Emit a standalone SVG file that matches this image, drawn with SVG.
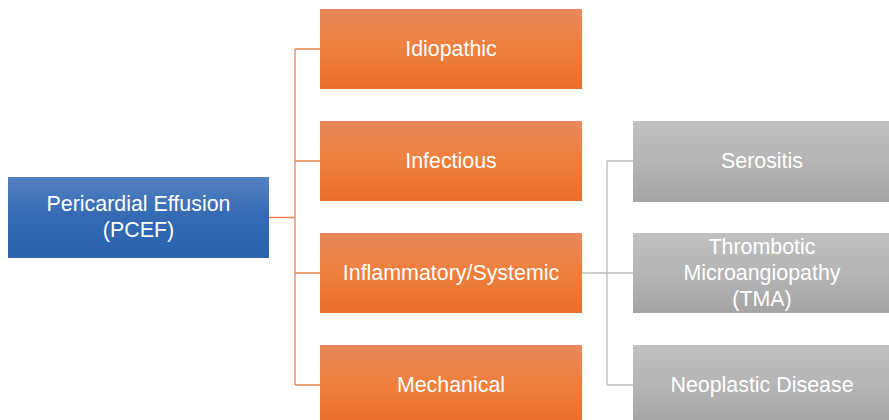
<svg xmlns="http://www.w3.org/2000/svg" width="889" height="420" viewBox="0 0 889 420">
<style>
.t{font-family:"Liberation Sans",Arial,sans-serif;font-size:21.4px;fill:#ffffff;text-anchor:middle}
.oc{fill:none;stroke:#EC8550;stroke-width:1.3}
.gc{fill:none;stroke:#BDBDBD;stroke-width:1.3}
</style>
<defs>
<linearGradient id="gb" x1="0" y1="0" x2="0" y2="1">
<stop offset="0" stop-color="#5581C2"/><stop offset="0.5" stop-color="#336AB3"/><stop offset="1" stop-color="#2A62AD"/>
</linearGradient>
<linearGradient id="go" x1="0" y1="0" x2="0" y2="1">
<stop offset="0" stop-color="#EA895C"/><stop offset="0.5" stop-color="#F07F3D"/><stop offset="1" stop-color="#E76E2B"/>
</linearGradient>
<linearGradient id="gg" x1="0" y1="0" x2="0" y2="1">
<stop offset="0" stop-color="#C0C0C0"/><stop offset="0.5" stop-color="#B5B5B5"/><stop offset="1" stop-color="#A4A4A4"/>
</linearGradient>
</defs>
<rect width="889" height="420" fill="#ffffff"/>
<g id="connectors">
<path class="oc" d="M269 217.5H295M295 49V385M295 49H320M295 161H320M295 273H320M295 385H320"/>
<path class="gc" d="M582 273H607M607 161V385M607 161H633M607 273H633M607 385H633"/>
</g>
<g id="root"><rect x="8" y="177" width="261" height="81" fill="url(#gb)"/>
<text class="t" x="138.5" y="211">Pericardial Effusion</text><text class="t" x="138.5" y="237">(PCEF)</text></g>
<g id="idiopathic"><rect x="320" y="9" width="262" height="80" fill="url(#go)"/><text class="t" x="451" y="56">Idiopathic</text></g>
<g id="infectious"><rect x="320" y="121" width="262" height="80" fill="url(#go)"/><text class="t" x="451" y="168">Infectious</text></g>
<g id="inflammatory"><rect x="320" y="233" width="262" height="80" fill="url(#go)"/><text class="t" x="451" y="280">Inflammatory/Systemic</text></g>
<g id="mechanical"><rect x="320" y="345" width="262" height="80" fill="url(#go)"/><text class="t" x="451" y="392">Mechanical</text></g>
<g id="serositis"><rect x="633" y="121" width="262" height="81" fill="url(#gg)"/><text class="t" x="762" y="168">Serositis</text></g>
<g id="tma"><rect x="633" y="233" width="262" height="80" fill="url(#gg)"/>
<text class="t" x="762" y="254">Thrombotic</text><text class="t" x="762" y="280">Microangiopathy</text><text class="t" x="762" y="306">(TMA)</text></g>
<g id="neoplastic"><rect x="633" y="345" width="262" height="80" fill="url(#gg)"/><text class="t" x="762" y="392">Neoplastic Disease</text></g>
</svg>
